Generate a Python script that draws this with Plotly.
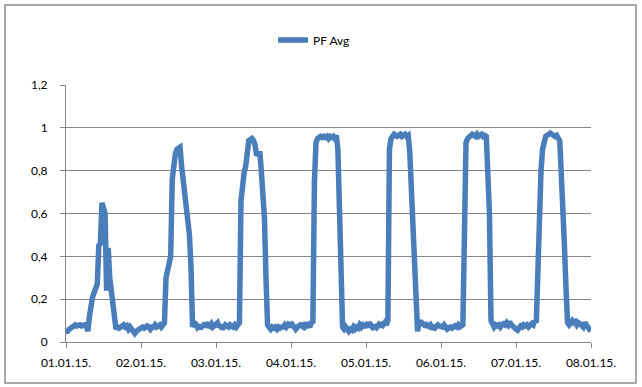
import pandas as pd
import plotly.graph_objects as go

# Half-hourly PF Avg readings, one list per day (01.01.15. - 07.01.15.)
day1 = [0.05, 0.05, 0.06, 0.065, 0.07, 0.075, 0.08, 0.075, 0.08, 0.08, 0.075, 0.08,
        0.08, 0.075, 0.05, 0.12, 0.19, 0.21, 0.23, 0.25, 0.27, 0.45, 0.46, 0.65,
        0.62, 0.60, 0.24, 0.44, 0.30, 0.22, 0.18, 0.12, 0.06, 0.07, 0.065, 0.07,
        0.075, 0.08, 0.07, 0.075, 0.06, 0.07, 0.06, 0.05, 0.04, 0.05, 0.055, 0.06]
day2 = [0.06, 0.07, 0.065, 0.07, 0.075, 0.07, 0.06, 0.07, 0.07, 0.08, 0.07, 0.075,
        0.08, 0.07, 0.085, 0.09, 0.30, 0.34, 0.37, 0.40, 0.76, 0.84, 0.88, 0.90,
        0.91, 0.91, 0.82, 0.76, 0.70, 0.62, 0.57, 0.50, 0.35, 0.07, 0.09, 0.085,
        0.07, 0.08, 0.06, 0.08, 0.07, 0.09, 0.07, 0.08, 0.075, 0.085, 0.07, 0.08]
day3 = [0.08, 0.09, 0.07, 0.08, 0.06, 0.07, 0.08, 0.075, 0.07, 0.08, 0.075, 0.07,
        0.08, 0.07, 0.08, 0.09, 0.66, 0.75, 0.79, 0.82, 0.89, 0.94, 0.945, 0.95,
        0.94, 0.92, 0.87, 0.88, 0.89, 0.80, 0.70, 0.58, 0.30, 0.08, 0.07, 0.06,
        0.07, 0.065, 0.07, 0.06, 0.07, 0.065, 0.07, 0.07, 0.08, 0.07, 0.08, 0.09]
day4 = [0.07, 0.08, 0.07, 0.06, 0.07, 0.08, 0.08, 0.075, 0.07, 0.09, 0.075, 0.08,
        0.07, 0.09, 0.095, 0.75, 0.93, 0.95, 0.955, 0.96, 0.955, 0.96, 0.955, 0.96,
        0.95, 0.96, 0.955, 0.96, 0.95, 0.965, 0.90, 0.70, 0.35, 0.07, 0.06, 0.07,
        0.06, 0.05, 0.06, 0.055, 0.07, 0.06, 0.07, 0.065, 0.08, 0.07, 0.08, 0.075]
day5 = [0.08, 0.07, 0.09, 0.08, 0.07, 0.06, 0.08, 0.07, 0.08, 0.07, 0.09, 0.08,
        0.09, 0.08, 0.10, 0.90, 0.95, 0.965, 0.97, 0.965, 0.96, 0.965, 0.97, 0.96,
        0.965, 0.97, 0.96, 0.965, 0.89, 0.72, 0.53, 0.40, 0.18, 0.05, 0.09, 0.10,
        0.08, 0.09, 0.07, 0.08, 0.075, 0.08, 0.06, 0.07, 0.065, 0.07, 0.08, 0.075]
day6 = [0.075, 0.07, 0.08, 0.07, 0.06, 0.065, 0.07, 0.065, 0.07, 0.075, 0.07, 0.08,
        0.07, 0.075, 0.08, 0.50, 0.93, 0.95, 0.96, 0.965, 0.97, 0.965, 0.96, 0.97,
        0.96, 0.965, 0.97, 0.96, 0.965, 0.96, 0.80, 0.60, 0.10, 0.08, 0.07, 0.08,
        0.075, 0.08, 0.07, 0.08, 0.085, 0.08, 0.09, 0.08, 0.095, 0.08, 0.07, 0.06]
day7 = [0.06, 0.055, 0.07, 0.075, 0.07, 0.08, 0.075, 0.08, 0.07, 0.08, 0.085, 0.08,
        0.10, 0.09, 0.40, 0.75, 0.80, 0.90, 0.94, 0.96, 0.965, 0.97, 0.975, 0.97,
        0.965, 0.96, 0.965, 0.95, 0.94, 0.78, 0.65, 0.45, 0.25, 0.09, 0.08, 0.09,
        0.10, 0.09, 0.095, 0.08, 0.09, 0.085, 0.08, 0.07, 0.09, 0.08, 0.07, 0.065,
        0.05]

series_name = "PF Avg"
y_tick_vals = [0, 0.2, 0.4, 0.6, 0.8, 1.0, 1.2]
y_tick_text = ["0", "0,2", "0,4", "0,6", "0,8", "1", "1,2"]
start_date = "2015-01-01"
end_date = "2015-01-08"

pf_avg = day1 + day2 + day3 + day4 + day5 + day6 + day7
times = pd.date_range(start=start_date, periods=len(pf_avg), freq="30min")

fig = go.Figure()
fig.add_trace(go.Scatter(
    x=times, y=pf_avg, mode="lines", name=series_name,
    line=dict(color="#4a7ebb", width=5.5),
    showlegend=True,
))

W, H = 642, 387
L, R, T, B = 66, 51, 85, 45
pw, ph = W - L - R, H - T - B


def px_to_paper_x(px):
    return (px - L) / pw


def px_to_paper_y(py):
    return (H - B - py) / ph


fig.update_layout(
    width=W, height=H,
    margin=dict(l=L, r=R, t=T, b=B),
    paper_bgcolor="white", plot_bgcolor="white",
    font=dict(family="Lato, Calibri, Arial, sans-serif", size=12, color="#000000"),
    showlegend=True,
    legend=dict(
        orientation="h",
        x=px_to_paper_x(273), xanchor="left",
        y=px_to_paper_y(40), yanchor="middle",
        font=dict(size=12),
        bgcolor="rgba(0,0,0,0)",
    ),
    xaxis=dict(
        type="date",
        range=[start_date, end_date],
        tickformat="%d.%m.%y.",
        dtick=86400000,
        tick0=start_date,
        showgrid=False,
        showline=True, linecolor="#868686", linewidth=1,
        ticks="outside", ticklen=5, tickcolor="#868686",
        ticklabelstandoff=5,
        zeroline=False,
    ),
    yaxis=dict(
        range=[0, 1.2],
        tickvals=y_tick_vals, ticktext=y_tick_text,
        showgrid=True, gridcolor="#868686", gridwidth=1,
        showline=True, linecolor="#868686", linewidth=1,
        ticks="outside", ticklen=5, tickcolor="#868686",
        ticklabelstandoff=10,
        zeroline=False,
    ),
    shapes=[dict(
        type="rect", xref="paper", yref="paper",
        x0=px_to_paper_x(5), x1=px_to_paper_x(636),
        y0=px_to_paper_y(383), y1=px_to_paper_y(5),
        line=dict(color="#8c8c8c", width=1.5),
        fillcolor="rgba(0,0,0,0)",
        layer="below",
    )],
    hovermode=False,
)

fig.write_html(
    "out.html",
    config={"displayModeBar": False, "staticPlot": True},
    post_script="document.body.style.margin='0';",
)
